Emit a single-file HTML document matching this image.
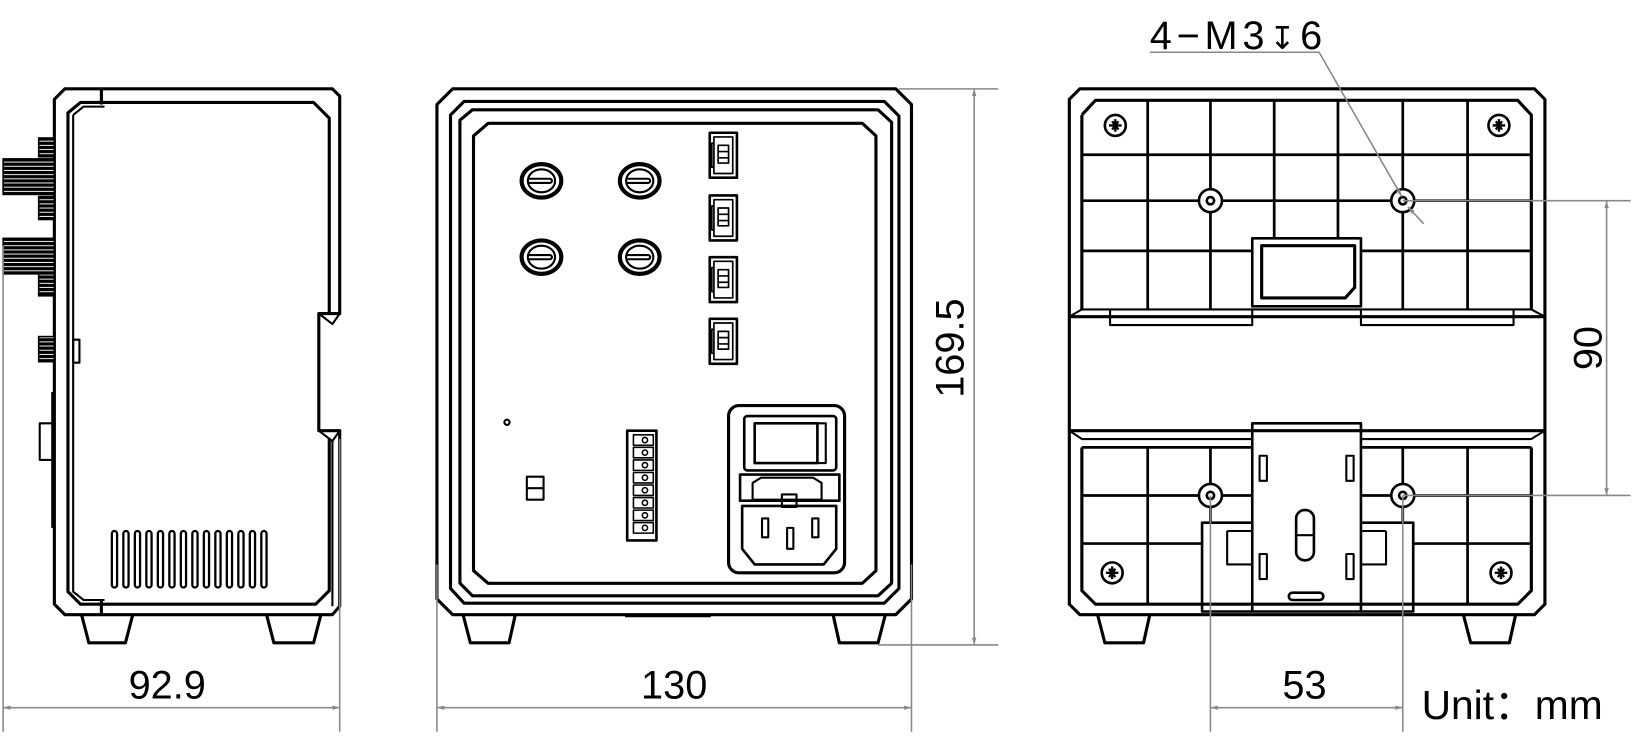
<!DOCTYPE html>
<html><head><meta charset="utf-8"><style>
html,body{margin:0;padding:0;background:#fff;}
svg{display:block;}
text{font-family:"Liberation Sans","Noto Sans CJK SC",sans-serif;fill:#000;}
</style></head><body>
<svg width="1639" height="750" viewBox="0 0 1568 717.5" preserveAspectRatio="none" xmlns="http://www.w3.org/2000/svg">
<defs>
<pattern id="kn" width="4" height="4" patternUnits="userSpaceOnUse"><rect width="4" height="4" fill="#000"/><rect y="2.6" width="4" height="0.9" fill="#fff"/></pattern>
<marker id="ar" viewBox="0 0 10 10" refX="10" refY="5" markerWidth="14" markerHeight="7" orient="auto-start-reverse" markerUnits="userSpaceOnUse"><path d="M0,2 L10,5 L0,8 z" fill="#888"/></marker>
</defs>
<g fill="none" stroke="#000" stroke-width="3" stroke-linejoin="round">
<!-- LEFT VIEW -->
<path d="M52,95 L62,85 L318,85 L325,92 L325,300 L305,300 L305,412 L325,412 L325,580 L318,588 L62,588 L52,578 Z"/>
<path d="M315,300 L315,113 L300,98 L77,98 L65,108 L65,566 L77,578 L302,578 L315,565 L315,420"/>
<path d="M70,110 L80,102 L100,102 M70,110 L70,566 L80,574 L100,574" stroke-width="2"/>
<line x1="97" y1="85" x2="97" y2="100"/><line x1="97" y1="575" x2="97" y2="588"/>
<path d="M305,300 L318,310 L325,300 M305,412 L318,422 L325,412" stroke-width="2"/>
<line x1="318" y1="422" x2="318" y2="580" stroke-width="2"/>
<rect x="70" y="325" width="6" height="22" stroke-width="2"/>
<path d="M50,375 L50,505" stroke-width="2"/>
<rect x="38" y="405" width="14" height="35" stroke-width="2"/>
<path d="M78,588 L85,615 L120,615 L127,588 M255,588 L262,615 L300,615 L307,588"/>
</g>
<g stroke="#000" stroke-width="1.5">
<rect x="37" y="132" width="15" height="18" fill="url(#kn)"/>
<rect x="3" y="152" width="49" height="34" fill="url(#kn)"/>
<rect x="37" y="188" width="15" height="22" fill="url(#kn)"/>
<rect x="3" y="228" width="49" height="34" fill="url(#kn)"/>
<rect x="37" y="262" width="15" height="21" fill="url(#kn)"/>
<rect x="37" y="322" width="15" height="24" fill="url(#kn)"/>
</g>
<g fill="none" stroke="#000" stroke-width="2.2">
<rect x="107" y="508" width="5" height="54" rx="2.5"/><rect x="118" y="508" width="5" height="54" rx="2.5"/><rect x="129" y="508" width="5" height="54" rx="2.5"/><rect x="140" y="508" width="5" height="54" rx="2.5"/><rect x="151" y="508" width="5" height="54" rx="2.5"/><rect x="162" y="508" width="5" height="54" rx="2.5"/><rect x="173" y="508" width="5" height="54" rx="2.5"/><rect x="184" y="508" width="5" height="54" rx="2.5"/><rect x="195" y="508" width="5" height="54" rx="2.5"/><rect x="206" y="508" width="5" height="54" rx="2.5"/><rect x="217" y="508" width="5" height="54" rx="2.5"/><rect x="228" y="508" width="5" height="54" rx="2.5"/><rect x="239" y="508" width="5" height="54" rx="2.5"/><rect x="250" y="508" width="5" height="54" rx="2.5"/>
</g>

<!-- MIDDLE VIEW -->
<g fill="none" stroke="#000" stroke-width="3" stroke-linejoin="round">
<path d="M418,100 L433,85 L857,85 L872,100 L872,573 L857,588 L433,588 L418,573 Z"/>
<path d="M431,110 L444,97 L846,97 L860,111 L860,563 L846,577 L444,577 L431,563 Z"/>
<path d="M440,115 L452,105 L840,105 L853,117 L853,558 L840,570 L452,570 L440,558 Z"/>
<path d="M453,130 L467,118 L825,118 L838,130 L838,546 L825,558 L467,558 L453,546 Z"/>
<line x1="598" y1="589" x2="680" y2="589"/>
<path d="M443,588 L450,615 L487,615 L493,588 M797,588 L803,615 L840,615 L847,588"/>
<g stroke-width="4">
<ellipse cx="518" cy="173" rx="19" ry="16"/><ellipse cx="612" cy="173" rx="19" ry="16"/>
<ellipse cx="518" cy="246" rx="19" ry="16"/><ellipse cx="612" cy="246" rx="19" ry="16"/>
</g>
<g stroke-width="2">
<ellipse cx="518" cy="173" rx="13" ry="11"/><ellipse cx="612" cy="173" rx="13" ry="11"/>
<ellipse cx="518" cy="246" rx="13" ry="11"/><ellipse cx="612" cy="246" rx="13" ry="11"/>
<path d="M506,171 L526,171 A2,2 0 0 1 526,175 L506,175"/><path d="M600,171 L620,171 A2,2 0 0 1 620,175 L600,175"/>
<path d="M506,244 L526,244 A2,2 0 0 1 526,248 L506,248"/><path d="M600,244 L620,244 A2,2 0 0 1 620,248 L600,248"/>
</g>
<g stroke-width="2.5">
<rect x="679" y="127" width="26" height="43"/><rect x="679" y="187" width="26" height="43"/><rect x="679" y="246" width="26" height="43"/><rect x="679" y="305" width="26" height="43"/>
</g>
<g stroke-width="1.6">
<path d="M683,131 L701,131 L701,166 L683,166 Z M683,137 L681,137 L681,160 L683,160 M687,139 L697,139 L697,156 L687,156 Z M687,145 L697,145 M687,151 L697,151"/>
<path d="M683,191 L701,191 L701,226 L683,226 Z M683,197 L681,197 L681,220 L683,220 M687,199 L697,199 L697,216 L687,216 Z M687,205 L697,205 M687,211 L697,211"/>
<path d="M683,250 L701,250 L701,285 L683,285 Z M683,256 L681,256 L681,279 L683,279 M687,258 L697,258 L697,275 L687,275 Z M687,264 L697,264 M687,270 L697,270"/>
<path d="M683,309 L701,309 L701,344 L683,344 Z M683,315 L681,315 L681,338 L683,338 M687,317 L697,317 L697,334 L687,334 Z M687,323 L697,323 M687,329 L697,329"/>
</g>
<circle cx="485" cy="404" r="2.5" stroke-width="2"/>
<rect x="504" y="456" width="16" height="22" stroke-width="2"/><line x1="504" y1="467" x2="520" y2="467" stroke-width="2"/>
<rect x="600" y="412" width="28" height="105" stroke-width="2.5"/>
<g stroke-width="1.5">
<rect x="606" y="416" width="19" height="10"/><rect x="606" y="428" width="19" height="10"/><rect x="606" y="440" width="19" height="10"/><rect x="606" y="452" width="19" height="10"/><rect x="606" y="464" width="19" height="10"/><rect x="606" y="476" width="19" height="10"/><rect x="606" y="488" width="19" height="10"/><rect x="606" y="500" width="19" height="10"/>
<circle cx="617" cy="421" r="2.5"/><circle cx="617" cy="433" r="2.5"/><circle cx="617" cy="445" r="2.5"/><circle cx="617" cy="457" r="2.5"/><circle cx="617" cy="469" r="2.5"/><circle cx="617" cy="481" r="2.5"/><circle cx="617" cy="493" r="2.5"/><circle cx="617" cy="505" r="2.5"/>
</g>
<rect x="697" y="388" width="111" height="160" rx="10" stroke-width="3"/>
<rect x="712" y="398" width="88" height="52" rx="3" stroke-width="2.5"/>
<rect x="722" y="405" width="60" height="38" stroke-width="2.5"/><rect x="782" y="405" width="8" height="38" stroke-width="2"/>
<rect x="708" y="454" width="95" height="25" stroke-width="2.5"/>
<path d="M720,462 L728,457 L778,457 L786,462 L786,478 L720,478 Z" stroke-width="2"/>
<path d="M710,484 L800,484 L800,525 L788,540 L722,540 L710,525 Z" stroke-width="2.5"/>
<rect x="748" y="473" width="14" height="12" stroke-width="2"/>
<rect x="729" y="496" width="6" height="18" stroke-width="2"/><rect x="777" y="496" width="6" height="18" stroke-width="2"/><rect x="753" y="505" width="6" height="20" stroke-width="2"/>
</g>

<!-- RIGHT VIEW -->
<g fill="none" stroke="#000" stroke-width="3" stroke-linejoin="round">
<path d="M1023,95 L1033,85 L1468,85 L1478,95 L1478,578 L1468,588 L1033,588 L1023,578 Z"/>
<path d="M1035,110 L1048,96 L1452,96 L1465,110 L1465,296 M1035,296 L1035,110"/>
<path d="M1035,428 L1035,565 L1048,578 L1452,578 L1465,565 L1465,428"/>
<line x1="1023" y1="303" x2="1478" y2="303"/><line x1="1023" y1="412" x2="1478" y2="412"/>
<path d="M1023,303 L1035,296 L1465,296 L1478,303" stroke-width="2"/>
<path d="M1023,412 L1035,420 L1198,420 M1302,420 L1465,420 L1478,412" stroke-width="2"/>
<path d="M1062,296 L1062,311 L1198,311 L1198,296 M1302,296 L1302,311 L1448,311 L1448,296" stroke-width="2"/>
<g stroke-width="2.6">
<line x1="1098" y1="96" x2="1098" y2="296"/><line x1="1158" y1="96" x2="1158" y2="296"/><line x1="1219" y1="96" x2="1219" y2="228"/><line x1="1280" y1="96" x2="1280" y2="228"/><line x1="1342" y1="96" x2="1342" y2="296"/><line x1="1404" y1="96" x2="1404" y2="296"/>
<line x1="1035" y1="148" x2="1465" y2="148"/><line x1="1035" y1="192" x2="1465" y2="192"/><line x1="1035" y1="240" x2="1198" y2="240"/><line x1="1302" y1="240" x2="1465" y2="240"/>
<line x1="1098" y1="428" x2="1098" y2="578"/><line x1="1158" y1="428" x2="1158" y2="500"/><line x1="1342" y1="428" x2="1342" y2="500"/><line x1="1404" y1="428" x2="1404" y2="578"/>
<line x1="1035" y1="474" x2="1198" y2="474"/><line x1="1302" y1="474" x2="1465" y2="474"/><line x1="1035" y1="520" x2="1150" y2="520"/><line x1="1352" y1="520" x2="1465" y2="520"/>
<line x1="1035" y1="428" x2="1198" y2="428"/><line x1="1302" y1="428" x2="1465" y2="428"/>
</g>
<rect x="1198" y="228" width="104" height="65" stroke-width="2.5"/>
<path d="M1207,235 L1296,235 L1296,275 L1287,285 L1207,285 Z" stroke-width="3"/>
<path d="M1198,405 L1302,405 L1302,585 L1198,585 Z" stroke-width="2.5"/>
<path d="M1198,500 L1150,500 L1150,585 L1198,585 M1302,500 L1352,500 L1352,585 L1302,585" stroke-width="2.5"/>
<path d="M1174,508 L1198,508 M1174,508 L1174,540 L1198,540 M1326,508 L1302,508 M1326,508 L1326,540 L1302,540" stroke-width="2"/>
<rect x="1240" y="488" width="17" height="48" rx="8" stroke-width="2.5"/><line x1="1240" y1="512" x2="1257" y2="512" stroke-width="2"/>
<rect x="1233" y="567" width="33" height="7" rx="3.5" stroke-width="2.5"/>
<rect x="1205" y="436" width="7" height="24" stroke-width="2"/><rect x="1288" y="436" width="7" height="24" stroke-width="2"/>
<rect x="1205" y="530" width="7" height="24" stroke-width="2"/><rect x="1288" y="530" width="7" height="24" stroke-width="2"/>
<g stroke-width="2.5">
<circle cx="1158" cy="192" r="11" fill="#fff"/><circle cx="1158" cy="192" r="3.5"/>
<circle cx="1342" cy="192" r="11" fill="#fff"/><circle cx="1342" cy="192" r="3.5"/>
<circle cx="1158" cy="474" r="11" fill="#fff"/><circle cx="1158" cy="474" r="3.5"/>
<circle cx="1342" cy="474" r="11" fill="#fff"/><circle cx="1342" cy="474" r="3.5"/>
<circle cx="1067" cy="120" r="10"/><circle cx="1434" cy="120" r="10"/><circle cx="1064" cy="548" r="10"/><circle cx="1436" cy="548" r="10"/>
</g>
<g stroke-width="2.2">
<path d="M1061,120 h12 M1067,114 v12 M1064,116 l6,8 M1070,116 l-6,8"/>
<path d="M1428,120 h12 M1434,114 v12 M1431,116 l6,8 M1437,116 l-6,8"/>
<path d="M1058,548 h12 M1064,542 v12 M1061,544 l6,8 M1067,544 l-6,8"/>
<path d="M1430,548 h12 M1436,542 v12 M1433,544 l6,8 M1439,544 l-6,8"/>
</g>
<path d="M1050,588 L1057,615 L1094,615 L1100,588 M1400,588 L1407,615 L1444,615 L1450,588"/>
</g>

<!-- DIMENSIONS -->
<g stroke="#888" stroke-width="1.5" fill="none">
<line x1="3" y1="235" x2="3" y2="700"/><line x1="325" y1="420" x2="325" y2="700"/>
<line x1="3" y1="677" x2="325" y2="677" marker-start="url(#ar)" marker-end="url(#ar)"/>
<line x1="418" y1="540" x2="418" y2="700"/><line x1="872" y1="540" x2="872" y2="700"/>
<line x1="418" y1="677" x2="872" y2="677" marker-start="url(#ar)" marker-end="url(#ar)"/>
<line x1="860" y1="85" x2="955" y2="85"/><line x1="840" y1="617" x2="955" y2="617"/>
<line x1="932" y1="85" x2="932" y2="617" marker-start="url(#ar)" marker-end="url(#ar)"/>
<line x1="1342" y1="192" x2="1560" y2="192"/><line x1="1342" y1="474" x2="1560" y2="474"/>
<line x1="1537" y1="192" x2="1537" y2="474" marker-start="url(#ar)" marker-end="url(#ar)"/>
<line x1="1158" y1="474" x2="1158" y2="700"/><line x1="1342" y1="474" x2="1342" y2="700"/>
<line x1="1158" y1="677" x2="1342" y2="677" marker-start="url(#ar)" marker-end="url(#ar)"/>
<path d="M1100,50 L1262,50 L1341,188" marker-end="url(#ar)"/>
<line x1="1362" y1="214" x2="1347" y2="198" marker-end="url(#ar)"/>
</g>
<g font-size="38">
<text x="160" y="668" text-anchor="middle">92.9</text>
<text x="645" y="668" text-anchor="middle">130</text>
<text x="1248" y="668" text-anchor="middle">53</text>
<text transform="translate(922,333) rotate(-90)" text-anchor="middle">169.5</text>
<text transform="translate(1532,333) rotate(-90)" text-anchor="middle">90</text>
<text x="1100" y="47" textLength="165">4−M3<tspan font-family="DejaVu Sans" font-size="30">↧</tspan>6</text>
<text x="1360" y="688" font-size="39">Unit：mm</text>
</g>
</svg>
</body></html>
